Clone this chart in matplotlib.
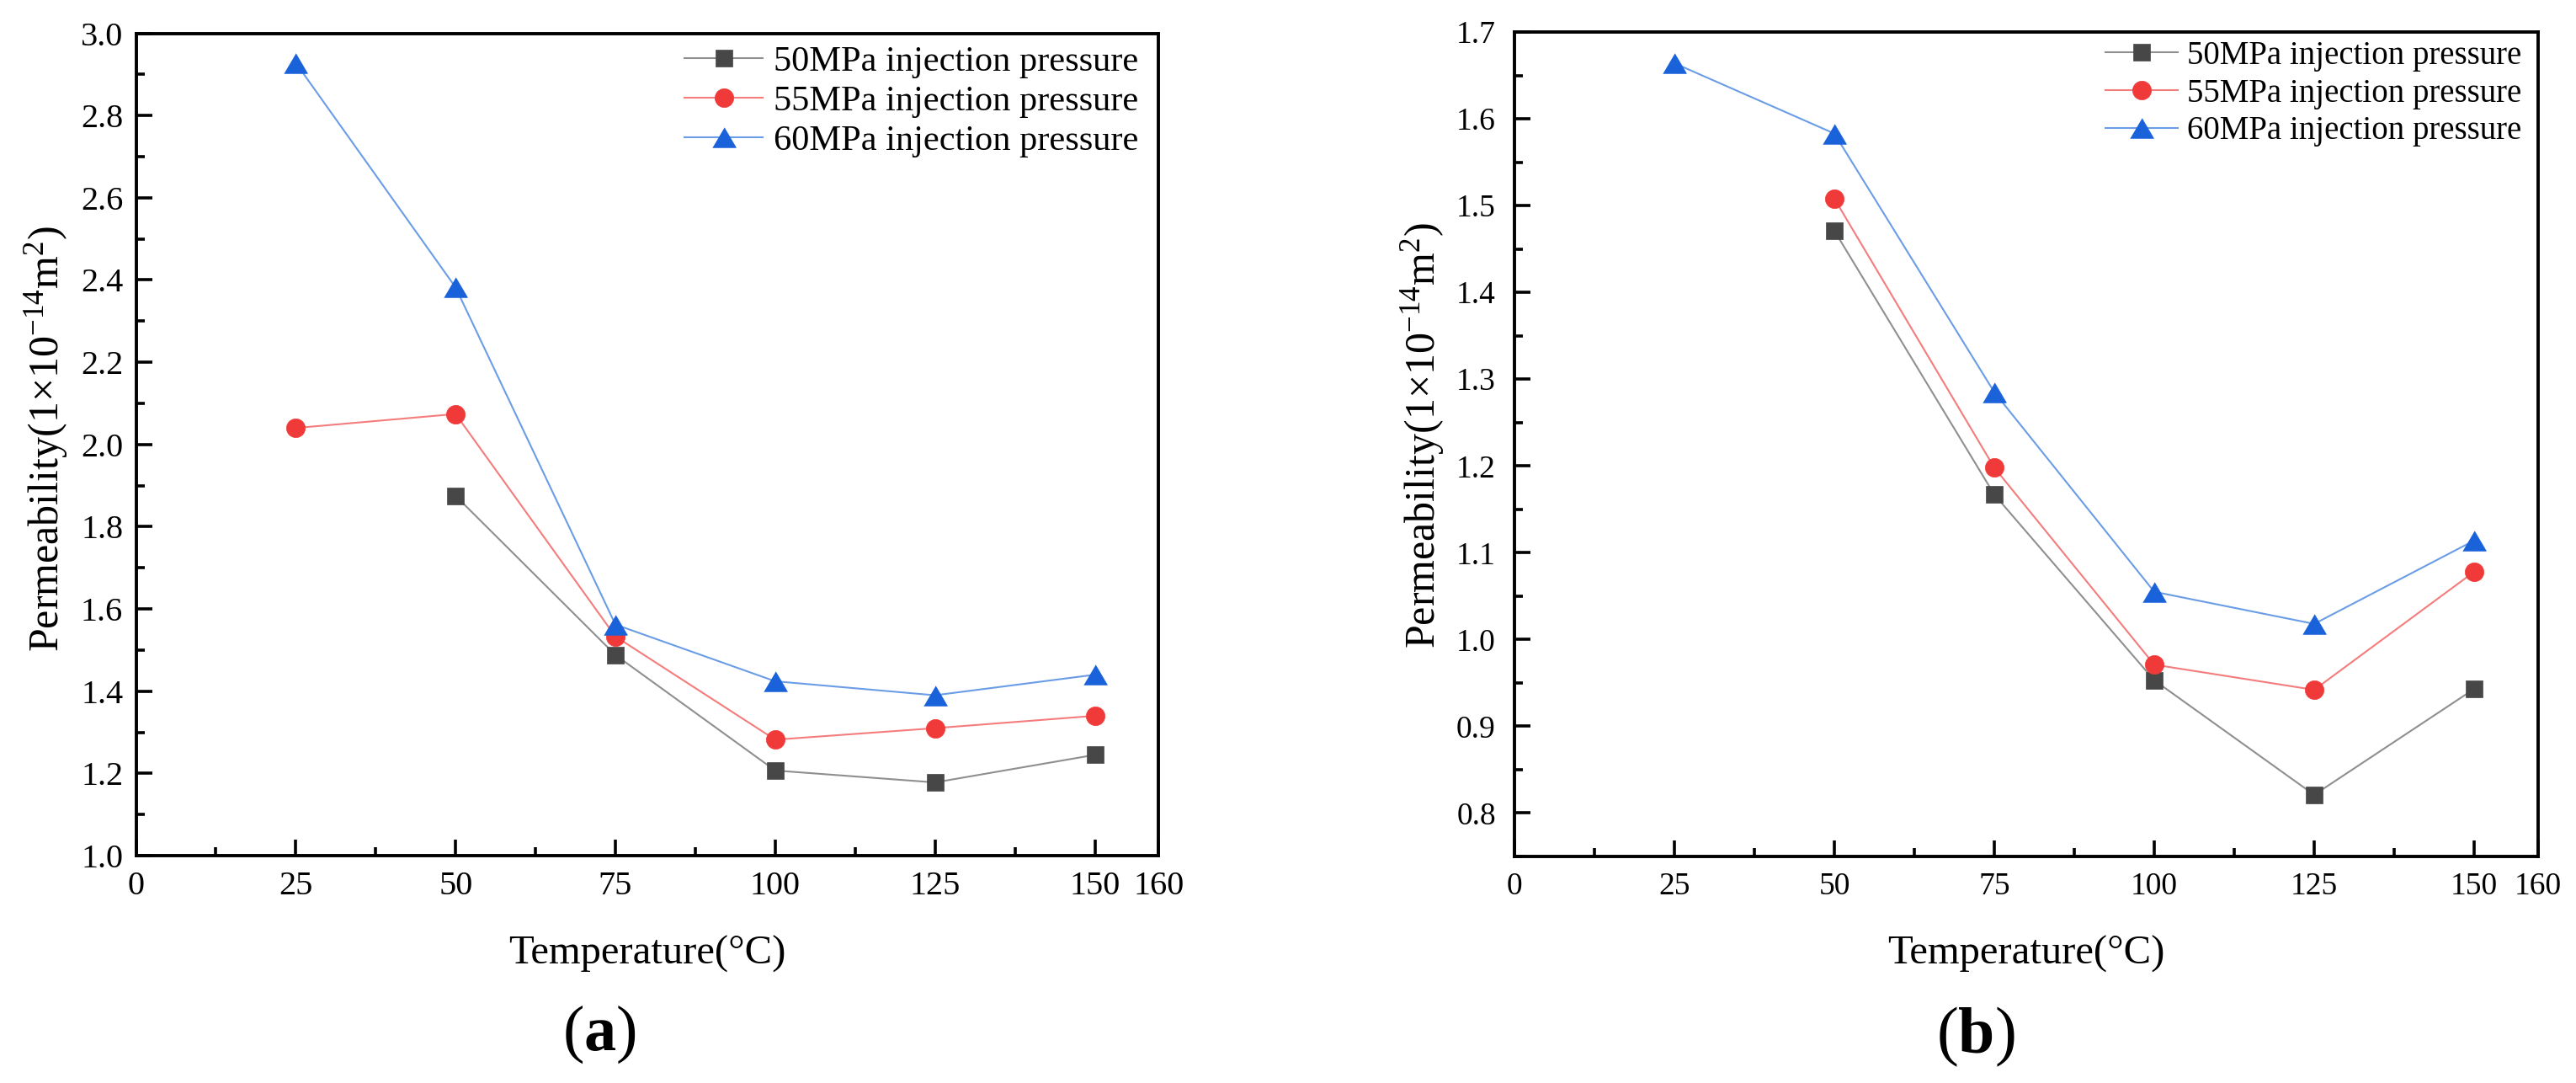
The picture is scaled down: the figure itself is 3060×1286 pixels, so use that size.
import matplotlib
matplotlib.use("Agg")
import matplotlib.pyplot as plt
from matplotlib.ticker import MultipleLocator, FixedLocator

plt.rcParams['font.family'] = ['Liberation Serif', 'DejaVu Serif']
plt.rcParams['mathtext.fontset'] = 'custom'
plt.rcParams['mathtext.rm'] = 'Liberation Serif'
plt.rcParams['mathtext.it'] = 'Liberation Serif:italic'
plt.rcParams['mathtext.bf'] = 'Liberation Serif:bold'

# ---------------- data ----------------
temps = [25, 50, 75, 100, 125, 150]
labels = ["50MPa injection pressure", "55MPa injection pressure", "60MPa injection pressure"]

# panel (a)
a_50 = [None, 1.875, 1.488, 1.207, 1.178, 1.245]
a_55 = [2.040, 2.074, 1.533, 1.282, 1.310, 1.340]
a_60 = [2.928, 2.382, 1.562, 1.424, 1.390, 1.440]

# panel (b)
b_50 = [None, 1.471, 1.167, 0.953, 0.821, 0.943]
b_55 = [None, 1.508, 1.198, 0.971, 0.942, 1.078]
b_60 = [1.664, 1.583, 1.285, 1.055, 1.018, 1.114]

xticks = [0, 25, 50, 75, 100, 125, 150, 160]
xlabel = "Temperature(\u00b0C)"
ylabel = "Permeability(1\u00d710$^{\u221214}$m$^{2}$)"

# ---------------- styles ----------------
tri = [(-1, -0.85), (1, -0.85), (0, 0.85)]
styles = [
    dict(marker='s', ms=15, mfc='#474747', mec='#474747', color='#8f8f8f'),
    dict(marker='o', ms=16, mfc='#f03a3a', mec='#f03a3a', color='#f47c7c'),
    dict(marker=tri, ms=20, mfc='#1a62d9', mec='#1a62d9', color='#6a9de6'),
]

W, H = 3060, 1286
fig = plt.figure(figsize=(W / 100, H / 100), dpi=100)

def px_rect(x0, y0, x1, y1):
    return [x0 / W, 1 - y1 / H, (x1 - x0) / W, (y1 - y0) / H]

ax_a = fig.add_axes(px_rect(161.5, 39.5, 1376.5, 1016))
ax_b = fig.add_axes(px_rect(1799, 38, 3015, 1017))

def series_xy(vals):
    xs = [t for t, v in zip(temps, vals) if v is not None]
    ys = [v for v in vals if v is not None]
    return xs, ys

def style_axes(ax, ylim, ymajor, yminor, tick_fs, xpad, ypad):
    ax.set_xlim(0, 160)
    ax.set_ylim(*ylim)
    ax.xaxis.set_major_locator(FixedLocator(xticks))
    ax.set_xticklabels([str(t) for t in xticks])
    ax.xaxis.set_minor_locator(FixedLocator([12.5, 37.5, 62.5, 87.5, 112.5, 137.5]))
    ax.yaxis.set_major_locator(MultipleLocator(ymajor))
    ax.yaxis.set_minor_locator(MultipleLocator(yminor))
    ax.yaxis.set_major_formatter(matplotlib.ticker.FormatStrFormatter('%.1f'))
    ax.tick_params(which='both', direction='in', top=False, right=False, width=2.6, color='black')
    ax.tick_params(which='major', length=13.5)
    ax.tick_params(which='minor', length=7.5)
    ax.tick_params(axis='x', which='major', labelsize=tick_fs, pad=xpad)
    ax.tick_params(axis='y', which='major', labelsize=tick_fs, pad=ypad)
    for sp in ax.spines.values():
        sp.set_linewidth(2.8)
        sp.set_color('black')

for ax, series, ylim, ymaj, ymin, tfs, xpad, ypad, legfs, anchor in [
    (ax_a, [a_50, a_55, a_60], (1.0, 3.0), 0.2, 0.1, 29, 13, 11, 30.5, (0.98, 0.985)),
    (ax_b, [b_50, b_55, b_60], (0.75, 1.7), 0.1, 0.05, 27, 13, 16, 28, (0.984, 0.99)),
]:
    for vals, st, lab in zip(series, styles, labels):
        xs, ys = series_xy(vals)
        ax.plot(xs, ys, lw=1.5, label=lab, markeredgewidth=0.5, **st)
    style_axes(ax, ylim, ymaj, ymin, tfs, xpad, ypad)
    leg = ax.legend(loc='upper right', bbox_to_anchor=anchor, frameon=False,
                    fontsize=legfs, handlelength=2.2, handletextpad=0.3,
                    labelspacing=0.2, borderaxespad=0, borderpad=0)

# axis labels
fig.text(769 / W, 1 - 1133 / H, xlabel, ha='center', va='center', fontsize=35)
fig.text(2407 / W, 1 - 1133 / H, xlabel, ha='center', va='center', fontsize=35)
fig.text(55 / W, 1 - 521 / H, ylabel, ha='center', va='center', rotation=90, fontsize=36)
fig.text(1690 / W, 1 - 517 / H, ylabel, ha='center', va='center', rotation=90, fontsize=36)

# panel tags
fig.text(712 / W, 1 - 1228 / H, r"($\mathbf{a}$)", ha='center', va='center', fontsize=55)
fig.text(2347 / W, 1 - 1231 / H, r"($\mathbf{b}$)", ha='center', va='center', fontsize=56)

fig.savefig("out.png", dpi=100, facecolor='white')
